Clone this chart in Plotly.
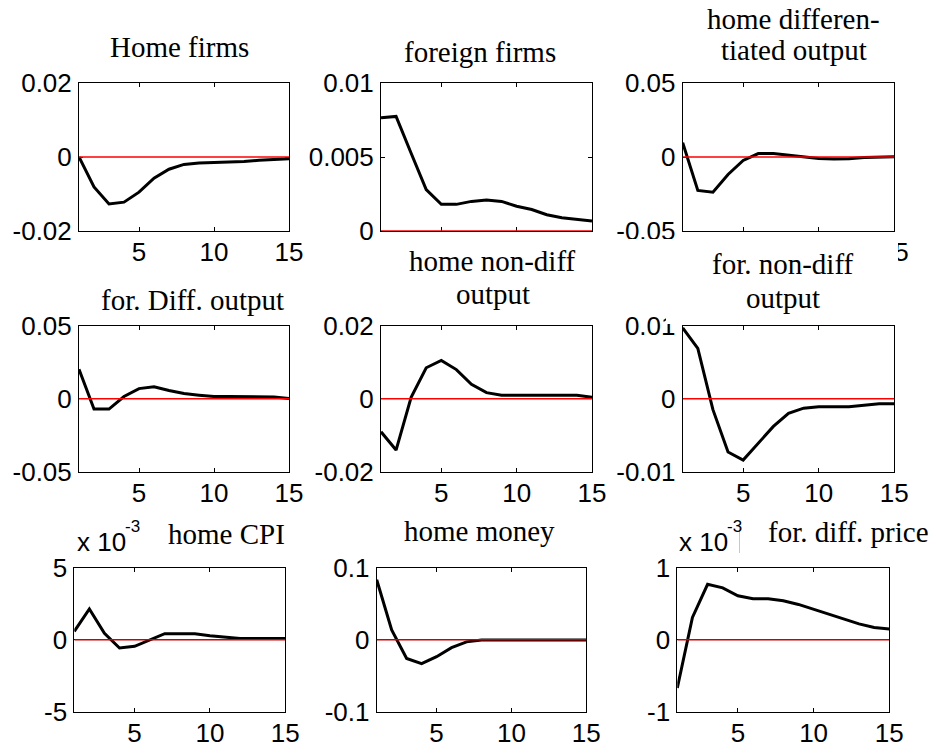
import plotly.graph_objects as go

# ---------------- data ----------------
periods = list(range(1, 16))
x_tick_vals = [5, 10, 15]
x_tick_text = ["5", "10", "15"]

panel_titles = [
    ["Home firms"],
    ["foreign firms"],
    ["home differen-", "tiated output"],
    ["for. Diff. output"],
    ["home non-diff", "output"],
    ["for. non-diff", "output"],
    ["home CPI"],
    ["home money"],
    ["for. diff. price"],
]

home_firms = [0.0, -0.0081, -0.0127, -0.0122, -0.0095, -0.0057, -0.0033, -0.0020,
              -0.0016, -0.0015, -0.0012, -0.0012, -0.0009, -0.0008, -0.0005]
foreign_firms = [0.00765, 0.00774, 0.00525, 0.0028, 0.0018, 0.0018, 0.0020, 0.0021,
                 0.0020, 0.00167, 0.00145, 0.0011, 0.0009, 0.00077, 0.00068]
home_diff_output = [0.0097, -0.0226, -0.0238, -0.0118, -0.0023, 0.0023, 0.0023, 0.0011,
                    0.0, -0.0010, -0.0013, -0.0011, -0.0003, 0.0002, 0.0002]
for_diff_output = [0.0202, -0.0070, -0.0070, 0.0016, 0.0070, 0.0082, 0.0057, 0.0036,
                   0.0025, 0.0016, 0.0016, 0.0015, 0.0014, 0.0013, 0.0002]
home_nondiff_output = [-0.0090, -0.0140, 0.0004, 0.0085, 0.0105, 0.0080, 0.0040, 0.0017,
                       0.0010, 0.0010, 0.0010, 0.0010, 0.0010, 0.0010, 0.0004]
for_nondiff_output = [0.0097, 0.0069, -0.0015, -0.0073, -0.0084, -0.0061, -0.0038, -0.0020,
                      -0.0013, -0.0011, -0.0011, -0.0011, -0.0009, -0.0007, -0.0007]
home_cpi = [0.00058, 0.00213, 0.00044, -0.00058, -0.00046, 0.0, 0.00042, 0.00042,
            0.00042, 0.00028, 0.00019, 0.00009, 0.00009, 0.00009, 0.00009]
home_money = [0.0833, 0.0134, -0.0260, -0.0333, -0.0236, -0.0110, -0.0030, -0.0005,
              -0.0004, -0.0004, -0.0004, -0.0004, -0.0004, -0.0004, -0.0004]
for_diff_price = [-0.00067, 0.00031, 0.00077, 0.00072, 0.00061, 0.00057, 0.00057, 0.00054,
                  0.00049, 0.00042, 0.00035, 0.00028, 0.00022, 0.00017, 0.00015]

series = [home_firms, foreign_firms, home_diff_output, for_diff_output,
          home_nondiff_output, for_nondiff_output, home_cpi, home_money, for_diff_price]

y_tick_vals = [
    [-0.02, 0, 0.02],
    [0, 0.005, 0.01],
    [-0.05, 0, 0.05],
    [-0.05, 0, 0.05],
    [-0.02, 0, 0.02],
    [-0.01, 0, 0.01],
    [-0.005, 0, 0.005],
    [-0.1, 0, 0.1],
    [-0.001, 0, 0.001],
]
y_tick_text = [
    ["-0.02", "0", "0.02"],
    ["0", "0.005", "0.01"],
    ["-0.05", "0", "0.05"],
    ["-0.05", "0", "0.05"],
    ["-0.02", "0", "0.02"],
    ["-0.01", "0", "0.01"],
    ["-5", "0", "5"],
    ["-0.1", "0", "0.1"],
    ["-1", "0", "1"],
]
exponent_text = ["x 10", "-3"]

# ---------------- layout geometry (screen pixels) ----------------
OFF = 8                      # default page (body) margin around the figure
W, H = 937 - OFF, 753 - OFF  # figure size
boxes = [
    (79, 289, 83, 231),
    (381, 592, 83, 231),
    (682.7, 894.3, 83, 231),
    (79, 289, 325.7, 472),
    (381, 592, 325.7, 472),
    (682.7, 894.3, 325.7, 471.7),
    (74.3, 285.3, 567.7, 711.7),
    (376.7, 586.3, 567.7, 711.7),
    (677.3, 889.3, 567.7, 711.7),
]
# title line positions: (center x, baseline y)
title_pos = [
    [(179, 58)],
    [(480, 62.5)],
    [(793, 30), (793.5, 61)],
    [(192, 310.7)],
    [(492.5, 271.7), (492.5, 305)],
    [(783, 275), (783, 308.3)],
    [(226.7, 545)],
    [(479.7, 541.7)],
    [(848.8, 543)],
]


def px(x):
    return (x - OFF) / W


def py(y):
    return 1 - (y - OFF) / H


TICK_FONT = dict(family="Liberation Sans, Arial, sans-serif", size=26, color="black")
TITLE_FONT = dict(family="Liberation Serif, Times New Roman, serif", size=29, color="black")

fig = go.Figure()
layout = dict(
    width=W, height=H,
    margin=dict(l=0, r=0, t=0, b=0, pad=0, autoexpand=False),
    paper_bgcolor="white", plot_bgcolor="white",
    showlegend=False,
)
shapes = []
annotations = []

for i in range(9):
    n = "" if i == 0 else str(i + 1)
    x0, x1, y0, y1 = boxes[i]
    fig.add_trace(go.Scatter(
        x=periods, y=series[i], mode="lines",
        line=dict(color="black", width=3),
        xaxis="x" + n, yaxis="y" + n, hoverinfo="skip",
    ))
    common = dict(showline=True, linecolor="black", linewidth=1, mirror="ticks",
                  ticks="inside", ticklen=4, tickwidth=1, tickcolor="black",
                  showgrid=False, zeroline=False, tickfont=TICK_FONT, automargin=False)
    layout["xaxis" + n] = dict(
        domain=[px(x0), px(x1)], anchor="y" + n, range=[1, 15],
        tickmode="array", tickvals=x_tick_vals, ticktext=x_tick_text,
        ticklabelstandoff=-2, **common)
    yv = y_tick_vals[i]
    layout["yaxis" + n] = dict(
        domain=[py(y1), py(y0)], anchor="x" + n, range=[yv[0], yv[-1]],
        tickmode="array", tickvals=yv, ticktext=y_tick_text[i],
        ticklabelstandoff=1, **common)
    zero_col = "#ff0000" if i < 6 else "#d00000"
    shapes.append(dict(type="line", xref="x" + n, yref="y" + n,
                       x0=1, x1=15, y0=0, y1=0, layer="above",
                       line=dict(color=zero_col, width=1.5)))
    for text, (cx, base) in zip(panel_titles[i], title_pos[i]):
        annotations.append(dict(
            text=text, x=px(cx), y=py(base + 0.22 * 29 + 1), xref="paper", yref="paper",
            xanchor="center", yanchor="bottom", showarrow=False, font=TITLE_FONT))

# exponent labels for panels 7 and 9
for (lx, sx) in [(75, 123), (677, 725)]:
    annotations.append(dict(text=exponent_text[0], x=px(lx), y=py(553 + 0.21 * 26 + 1),
                            xref="paper", yref="paper", xanchor="left", yanchor="bottom",
                            showarrow=False, font=TICK_FONT))
    annotations.append(dict(text=exponent_text[1], x=px(sx), y=py(533 + 0.21 * 17 + 1),
                            xref="paper", yref="paper", xanchor="left", yanchor="bottom",
                            showarrow=False, font=dict(family=TICK_FONT["family"], size=17,
                                                       color="black")))

# white patches hiding overlapped tick labels (as in the original figure)
for (a, b, c, d) in [(378, 898, 239, 262), (612, 898, 262, 311), (666, 898, 311, 324)]:
    shapes.append(dict(type="rect", xref="paper", yref="paper",
                       x0=px(a), x1=px(b), y0=py(d), y1=py(c), layer="above",
                       fillcolor="white", line=dict(width=0)))
# thin grey separator next to the exponent of the last panel
shapes.append(dict(type="line", xref="paper", yref="paper",
                   x0=px(739.5), x1=px(739.5), y0=py(553), y1=py(527), layer="above",
                   line=dict(color="#c8c8c8", width=1)))

layout["shapes"] = shapes
layout["annotations"] = annotations
fig.update_layout(**layout)
fig.write_html("out.html")
